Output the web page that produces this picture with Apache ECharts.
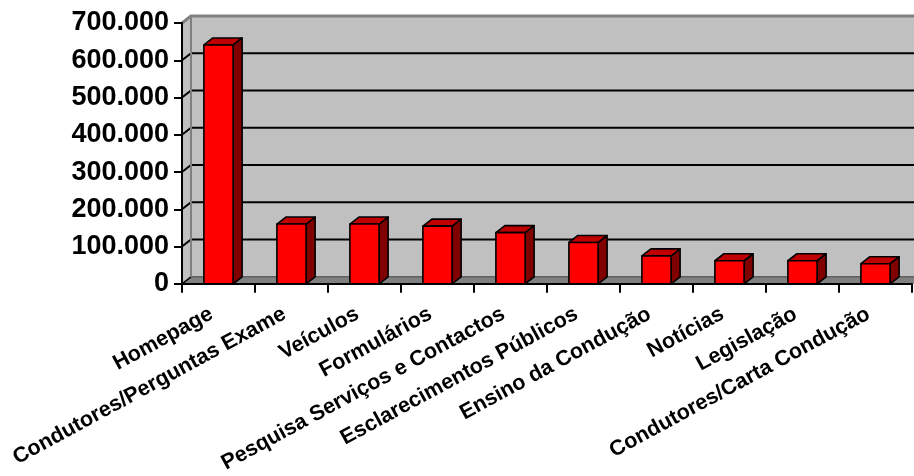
<!DOCTYPE html>
<html>
<head>
<meta charset="utf-8">
<script src="https://cdn.jsdelivr.net/npm/echarts@6/dist/echarts.min.js"></script>
<style>html,body{margin:0;padding:0;background:#fff;}#c{width:914px;height:476px;}</style>
</head>
<body>
<div id="c"></div>
<script>
var categories = ['Homepage','Condutores/Perguntas Exame','Veículos','Formulários','Pesquisa Serviços e Contactos','Esclarecimentos Públicos','Ensino da Condução','Notícias','Legislação','Condutores/Carta Condução'];
var visits = [641000, 160500, 160500, 155000, 137500, 111000, 75000, 62000, 62000, 54000];
var yTicks = [0, 100000, 200000, 300000, 400000, 500000, 600000, 700000];

var DX = 9, DY = -7;
var chart = echarts.init(document.getElementById('c'), null, {renderer: 'canvas'});

function fmt(v) {
  return String(v).replace(/\B(?=(\d{3})+(?!\d))/g, '.');
}

chart.setOption({
  animation: false,
  backgroundColor: '#ffffff',
  grid: {left: 182, right: 2, top: 23, bottom: 190, containLabel: false},
  xAxis: {
    type: 'category',
    data: categories,
    z: 10,
    axisLine: {lineStyle: {color: '#000', width: 2}},
    axisTick: {show: true, length: 9, lineStyle: {color: '#000', width: 2}},
    axisLabel: {
      interval: 0, rotate: 28.5, margin: 25, padding: [0, 8, 0, 0],
      fontFamily: 'Liberation Sans, Arial, sans-serif', fontWeight: 'bold', fontSize: 21.5, color: '#000'
    }
  },
  yAxis: {
    type: 'value', min: 0, max: 700000, interval: 100000,
    z: 10,
    axisLine: {show: true, lineStyle: {color: '#000', width: 2}},
    axisTick: {show: true, length: 8, lineStyle: {color: '#000', width: 2}},
    splitLine: {show: false},
    axisLabel: {
      margin: 13, formatter: fmt,
      fontFamily: 'Liberation Sans, Arial, sans-serif', fontWeight: 'bold', fontSize: 27, color: '#000'
    }
  },
  series: [
    {
      type: 'custom',
      z: 1,
      silent: true,
      data: [[0, 0]],
      renderItem: function (params, api) {
        var cs = params.coordSys;
        var x0 = cs.x, x1 = cs.x + cs.width + 40;
        var yTop = api.coord([0, yTicks[yTicks.length - 1]])[1];
        var yBot = api.coord([0, 0])[1];
        var children = [];
        children.push({type: 'rect', shape: {x: x0 + DX, y: yTop + DY, width: x1 - x0, height: yBot - yTop},
          style: {fill: '#c0c0c0', stroke: null}});
        children.push({type: 'polygon', shape: {points: [[x0, yTop], [x0 + DX, yTop + DY], [x0 + DX, yBot + DY], [x0, yBot]]},
          style: {fill: '#c0c0c0', stroke: null}});
        children.push({type: 'polygon', shape: {points: [[x0, yBot], [x0 + DX, yBot + DY], [x1 + DX, yBot + DY], [x1, yBot]]},
          style: {fill: '#808080', stroke: null}});
        for (var i = 1; i < yTicks.length - 1; i++) {
          var yy = api.coord([0, yTicks[i]])[1];
          children.push({type: 'polyline', shape: {points: [[x0, yy], [x0 + DX, yy + DY], [x1 + DX, yy + DY]]},
            style: {fill: null, stroke: '#000', lineWidth: 2}});
        }
        children.push({type: 'line', shape: {x1: x0 + DX, y1: yBot + DY, x2: x1 + DX, y2: yBot + DY},
          style: {stroke: '#606060', lineWidth: 1.5}});
        children.push({type: 'line', shape: {x1: x0, y1: yBot, x2: x0 + DX, y2: yBot + DY},
          style: {stroke: '#000', lineWidth: 1.5}});
        children.push({type: 'polyline', shape: {points: [[x0, yTop], [x0 + DX, yTop + DY], [x1 + DX, yTop + DY]]},
          style: {fill: null, stroke: '#808080', lineWidth: 3}});
        children.push({type: 'line', shape: {x1: x0 + DX, y1: yTop + DY, x2: x0 + DX, y2: yBot + DY},
          style: {stroke: '#808080', lineWidth: 2}});
        return {type: 'group', children: children};
      }
    },
    {
      type: 'custom',
      z: 3,
      data: visits.map(function (v, i) { return [i, v]; }),
      encode: {x: 0, y: 1},
      renderItem: function (params, api) {
        var idx = api.value(0), val = api.value(1);
        var p = api.coord([idx, val]);
        var p0 = api.coord([idx, 0]);
        var w = api.size([1, 0])[0] * 0.4;
        var l = p[0] - w / 2, r = p[0] + w / 2, t = p[1], b = p0[1];
        var st = {stroke: '#000', lineWidth: 1.6, lineJoin: 'round'};
        return {
          type: 'group',
          children: [
            {type: 'polygon', shape: {points: [[r, t], [r + DX, t + DY], [r + DX, b + DY], [r, b]]},
              style: Object.assign({fill: '#800000'}, st)},
            {type: 'polygon', shape: {points: [[l, t], [r, t], [r + DX, t + DY], [l + DX, t + DY]]},
              style: Object.assign({fill: '#c00000'}, st)},
            {type: 'rect', shape: {x: l, y: t, width: w, height: b - t},
              style: Object.assign({fill: '#ff0000'}, st)}
          ]
        };
      }
    }
  ]
});
</script>
</body>
</html>
